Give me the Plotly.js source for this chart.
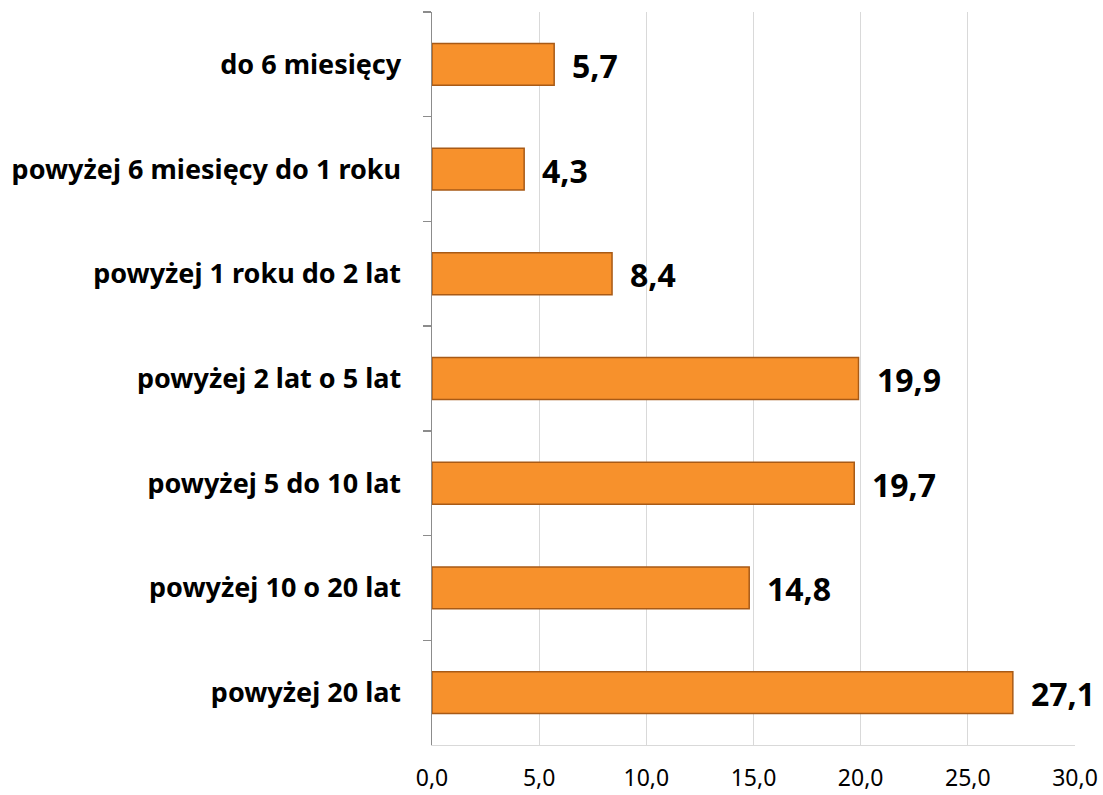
<!DOCTYPE html>
<html>
<head>
<meta charset="utf-8">
<script src="https://cdn.plot.ly/plotly-3.0.1.min.js"></script>
<style>html,body{margin:0;padding:0;background:#fff;}#chart{width:1103px;height:795px;}</style>
</head>
<body>
<div id="chart"></div>
<script>
const categories = [
  "do 6 miesięcy",
  "powyżej 6 miesięcy do 1 roku",
  "powyżej 1 roku do 2 lat",
  "powyżej 2 lat o 5 lat",
  "powyżej 5 do 10 lat",
  "powyżej 10 o 20 lat",
  "powyżej 20 lat"
];
const values = [5.7, 4.3, 8.4, 19.9, 19.7, 14.8, 27.1];
const xTicks = [0, 5, 10, 15, 20, 25, 30];

const fmt = v => v.toFixed(1).replace('.', ',');
const FONT = 'Noto Sans, Open Sans, sans-serif';

const trace = {
  type: 'bar',
  orientation: 'h',
  y: categories,
  x: values,
  marker: {
    color: '#F7912C',
    line: {color: '#A85A16', width: 1.5}
  },
  hoverinfo: 'none'
};

const annotations = values.map((v, i) => ({
  x: v, y: categories[i], xref: 'x', yref: 'y',
  text: '<b>' + fmt(v) + '</b>',
  showarrow: false, xanchor: 'left', xshift: 16, yshift: -1,
  font: {family: FONT, size: 32, color: '#000'}
}));

const layout = {
  width: 1103, height: 795,
  margin: {l: 432, r: 28, t: 12, b: 50},
  paper_bgcolor: '#fff', plot_bgcolor: '#fff',
  bargap: 0.6,
  separators: ',.',
  showlegend: false,
  xaxis: {
    range: [0, 30],
    tickvals: xTicks,
    ticktext: xTicks.map(fmt),
    showgrid: true, gridcolor: '#D9D9D9', gridwidth: 1,
    zeroline: false,
    showline: true, linecolor: '#D9D9D9', linewidth: 1,
    ticks: '',
    ticklabelstandoff: 12,
    tickfont: {family: FONT, size: 23, color: '#000'},
    fixedrange: true
  },
  yaxis: {
    autorange: 'reversed',
    showline: true, linecolor: '#8C8C8C', linewidth: 1.5,
    ticks: 'outside', tickson: 'boundaries', ticklen: 8, tickcolor: '#8C8C8C', tickwidth: 1.5,
    ticklabelstandoff: 24,
    showgrid: false, zeroline: false,
    tickfont: {family: FONT, size: 27, color: '#000', weight: 'bold'},
    fixedrange: true
  },
  annotations: annotations
};

Plotly.newPlot('chart', [trace], layout, {displayModeBar: false, staticPlot: true});
</script>
</body>
</html>
